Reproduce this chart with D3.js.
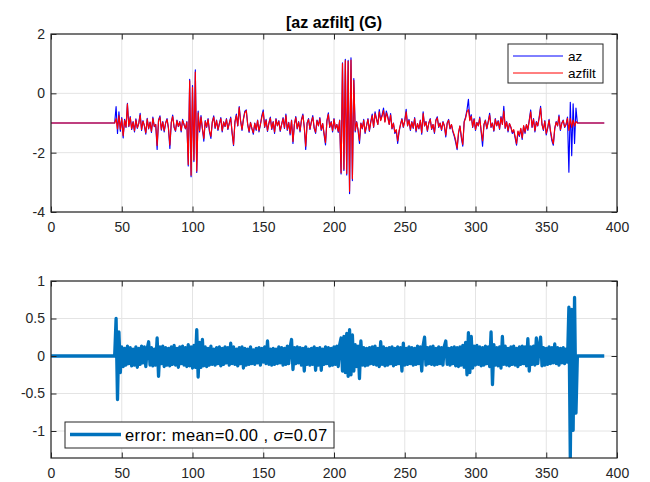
<!DOCTYPE html>
<html>
<head>
<meta charset="utf-8">
<script src="https://cdn.jsdelivr.net/npm/d3@7"></script>
<style>
  html, body { margin: 0; padding: 0; background: #fff; }
  svg { display: block; }
  text { font-family: "Liberation Sans", Arial, Helvetica, sans-serif; fill: #262626; }
</style>
</head>
<body>
<svg id="fig" width="650" height="482"></svg>
<script>
// ---- recording: rest level outside the active window, 1 s between samples ----
const recordStart = 0;
const recordEnd = 391;
const activeStart = 45;
const sampleStep = 1;
const azRest = -1;
const errorRest = 0;

// vertical acceleration (G), samples from t = 45 s to t = 373 s
const az = [
  -1.00,
  -0.45, -1.35, -0.62, -1.28, -0.82, -1.50, -0.88, -1.15, -0.34, -1.12,
  -0.78, -1.22, -0.95, -1.30, -0.86, -1.18, -1.02, -0.67, -1.25, -0.92,
  -1.10, -1.38, -0.84, -1.20, -0.97, -1.32, -0.80, -1.12, -1.05, -1.89,
  -0.90, -0.76, -1.24, -0.95, -1.30, -1.00, -0.85, -1.18, -1.86, -0.98,
  -0.73, -1.15, -1.28, -0.90, -1.12, -0.95, -1.30, -0.88, -1.05, -1.20,
  -0.95, -2.45, 0.47, -2.81, 0.26, -2.30, 0.79, -2.67, -0.60, -1.30,
  -0.75, -1.20, -1.61, -0.92, -1.15, -0.85, -1.30, -1.52, -0.95, -0.76,
  -1.18, -0.90, -1.25, -1.02, -0.82, -1.30, -0.96, -1.12, -0.85, -1.22,
  -1.00, -0.80, -1.35, -1.76, -0.95, -0.70, -1.10, -0.45, -0.92, -1.25,
  -0.85, -0.60, -0.56, -1.05, -1.32, -0.98, -1.20, -1.38, -1.00, -1.25,
  -0.90, -1.30, -1.05, -0.75, -0.56, -1.15, -0.88, -1.28, -1.00, -0.80,
  -1.22, -0.95, -1.35, -0.85, -1.10, -0.92, -1.28, -1.05, -0.82, -1.18,
  -0.70, -1.25, -0.98, -1.40, -0.90, -1.69, -1.05, -0.78, -1.20, -0.95,
  -1.30, -0.88, -0.70, -1.15, -1.89, -1.00, -0.85, -1.22, -0.95, -0.75,
  -1.18, -1.35, -0.90, -1.10, -0.82, -1.25, -1.02, -1.40, -1.74, -0.92,
  -0.66, -1.15, -0.95, -1.30, -0.85, -1.20, -1.05, -1.32, -0.90, -2.72,
  1.03, -2.60, 1.15, -2.75, 1.11, -3.38, 1.20, -2.94, 0.50, -1.30,
  -0.95, -1.25, -1.69, -1.00, -1.20, -0.88, -1.35, -1.10, -0.85, -1.28,
  -0.95, -0.70, -1.15, -0.62, -0.85, -1.05, -0.55, -0.90, -0.72, -0.50,
  -0.95, -0.60, -0.78, -1.05, -0.68, -1.20, -1.00, -1.35, -1.25, -1.69,
  -1.30, -1.05, -0.85, -1.15, -0.92, -0.54, -1.10, -0.88, -1.25, -0.95,
  -1.18, -0.82, -1.30, -1.02, -1.20, -0.90, -1.38, -0.62, -1.10, -0.95,
  -1.28, -1.00, -0.85, -1.22, -1.05, -1.35, -0.90, -0.79, -1.15, -1.00,
  -1.25, -0.95, -1.10, -1.47, -1.00, -0.88, -1.20, -1.05, -1.30, -1.45,
  -1.65, -1.90, -1.35, -1.10, -1.50, -1.78, -0.95, -0.80, -0.55, -0.20,
  -0.90, -0.72, -1.15, -0.85, -1.25, -0.98, -1.10, -0.80, -1.30, -1.78,
  -1.05, -0.90, -1.20, -0.95, -0.67, -1.15, -1.00, -1.28, -0.85, -1.10,
  -0.92, -1.22, -0.78, -1.05, -0.44, -1.18, -0.95, -1.30, -1.02, -1.15,
  -1.35, -1.25, -1.50, -1.75, -1.30, -1.45, -1.20, -1.55, -1.10, -1.35,
  -1.05, -1.25, -0.90, -0.56, -1.15, -0.85, -1.30, -0.95, -1.10, -0.80,
  -0.44, -1.05, -1.25, -0.92, -1.40, -1.18, -0.88, -1.30, -1.60, -1.75,
  -1.20, -0.95, -1.10, -0.73, -1.25, -1.00, -0.90, -1.15, -1.05, -0.80,
  -2.66, -0.30, -2.10, -0.35, -1.69, -0.50, -1.00,
  -1.00
];

// filtered acceleration (G), same sample times
const azfilt = [
  -1.00,
  -0.85, -1.20, -0.75, -1.22, -0.86, -1.43, -0.91, -1.13, -0.36, -1.11,
  -0.82, -1.19, -0.97, -1.26, -0.89, -1.16, -1.02, -0.73, -1.22, -0.94,
  -1.09, -1.33, -0.87, -1.18, -0.98, -1.28, -0.84, -1.11, -1.05, -1.76,
  -0.92, -0.80, -1.21, -0.97, -1.26, -1.01, -0.88, -1.16, -1.74, -0.99,
  -0.78, -1.13, -1.25, -0.92, -1.11, -0.97, -1.26, -0.91, -1.05, -1.18,
  -0.97, -2.40, 0.42, -2.76, 0.20, -2.25, 0.72, -2.62, -0.66, -1.26,
  -0.80, -1.18, -1.52, -0.94, -1.13, -0.88, -1.26, -1.45, -0.97, -0.80,
  -1.16, -0.92, -1.22, -1.02, -0.85, -1.26, -0.97, -1.11, -0.88, -1.20,
  -1.01, -0.84, -1.31, -1.72, -0.97, -0.75, -1.09, -0.48, -0.94, -1.22,
  -0.88, -0.65, -0.58, -1.05, -1.28, -0.99, -1.18, -1.33, -1.01, -1.22,
  -0.92, -1.26, -1.05, -0.80, -0.63, -1.13, -0.91, -1.25, -1.01, -0.84,
  -1.19, -0.97, -1.30, -0.88, -1.09, -0.94, -1.25, -1.05, -0.85, -1.16,
  -0.75, -1.22, -0.99, -1.35, -0.92, -1.62, -1.05, -0.82, -1.18, -0.97,
  -1.26, -0.91, -0.74, -1.13, -1.78, -1.01, -0.88, -1.20, -0.97, -0.80,
  -1.16, -1.31, -0.92, -1.09, -0.85, -1.22, -1.02, -1.35, -1.66, -0.94,
  -0.71, -1.13, -0.97, -1.26, -0.88, -1.18, -1.05, -1.28, -0.92, -2.68,
  1.00, -2.56, 1.10, -2.70, 1.08, -3.30, 1.12, -2.88, 0.44, -1.26,
  -0.97, -1.22, -1.60, -1.01, -1.18, -0.91, -1.31, -1.09, -0.88, -1.25,
  -0.97, -0.75, -1.13, -0.68, -0.88, -1.05, -0.62, -0.92, -0.77, -0.58,
  -0.97, -0.66, -0.82, -1.05, -0.73, -1.18, -1.01, -1.31, -1.22, -1.60,
  -1.26, -1.05, -0.88, -1.13, -0.94, -0.62, -1.09, -0.91, -1.22, -0.97,
  -1.16, -0.85, -1.26, -1.02, -1.18, -0.92, -1.33, -0.68, -1.09, -0.97,
  -1.25, -1.01, -0.88, -1.20, -1.05, -1.31, -0.92, -0.83, -1.13, -1.01,
  -1.22, -0.97, -1.09, -1.41, -1.01, -0.91, -1.18, -1.05, -1.26, -1.40,
  -1.58, -1.85, -1.32, -1.10, -1.45, -1.72, -0.97, -0.84, -0.62, -0.55,
  -0.92, -0.77, -1.13, -0.88, -1.22, -0.99, -1.09, -0.84, -1.26, -1.60,
  -1.05, -0.92, -1.18, -0.97, -0.73, -1.13, -1.01, -1.25, -0.88, -1.09,
  -0.94, -1.19, -0.82, -1.05, -0.60, -1.16, -0.97, -1.26, -1.02, -1.13,
  -1.31, -1.22, -1.45, -1.70, -1.27, -1.41, -1.18, -1.50, -1.09, -1.31,
  -1.05, -1.22, -0.92, -0.62, -1.13, -0.88, -1.26, -0.97, -1.09, -0.84,
  -0.50, -1.05, -1.22, -0.94, -1.35, -1.16, -0.91, -1.26, -1.52, -1.70,
  -1.18, -0.97, -1.09, -0.78, -1.22, -1.01, -0.92, -1.13, -1.05, -0.84,
  -1.25, -0.85, -1.15, -0.90, -1.10, -0.95, -1.00,
  -1.00
];

// filter error (G), same sample times
const filterError = [
  0.00,
  0.50, -0.58, 0.32, -0.22, 0.12, -0.14, 0.10, -0.12, 0.13, -0.10,
  0.11, -0.13, 0.09, -0.12, 0.12, -0.15, 0.10, -0.11, 0.13, -0.09,
  0.12, -0.14, 0.10, 0.19, -0.12, 0.11, -0.13, 0.09, -0.12, 0.24,
  -0.27, 0.12, -0.10, 0.13, -0.14, 0.11, -0.12, 0.10, -0.13, 0.12,
  -0.11, 0.14, -0.12, 0.10, -0.15, 0.12, -0.10, 0.13, -0.12, 0.11,
  -0.14, 0.15, -0.13, 0.12, -0.16, 0.14, -0.15, 0.35, -0.28, 0.18,
  -0.15, 0.22, -0.13, 0.12, -0.14, 0.10, -0.12, 0.13, -0.11, 0.09,
  -0.12, 0.11, -0.10, 0.12, -0.13, 0.10, -0.11, 0.12, -0.09, 0.11,
  -0.12, 0.17, -0.10, 0.12, -0.11, 0.09, -0.13, 0.11, -0.10, 0.12,
  -0.16, 0.10, -0.12, 0.09, -0.11, 0.12, -0.10, 0.08, -0.11, 0.10,
  -0.09, 0.11, -0.12, 0.10, -0.08, 0.12, -0.10, 0.20, -0.11, 0.09,
  -0.12, 0.10, -0.11, 0.09, -0.10, 0.12, -0.09, 0.11, -0.12, 0.10,
  -0.11, 0.13, -0.10, 0.12, 0.22, -0.18, 0.11, -0.10, 0.12, -0.09,
  0.11, -0.12, 0.10, -0.20, 0.12, -0.11, 0.09, -0.12, 0.10, -0.11,
  0.12, -0.19, 0.10, -0.12, 0.11, -0.19, 0.09, -0.11, 0.12, -0.10,
  0.11, -0.13, 0.10, -0.12, 0.12, -0.11, 0.13, -0.14, 0.15, 0.24,
  -0.20, 0.26, -0.22, 0.30, -0.27, 0.35, -0.25, 0.28, -0.20, 0.15,
  -0.14, 0.13, -0.30, 0.20, -0.12, 0.11, -0.13, 0.10, -0.12, 0.11,
  -0.10, 0.12, -0.11, 0.13, -0.12, 0.10, -0.14, 0.19, -0.11, 0.12,
  -0.13, 0.10, -0.12, 0.11, -0.10, 0.12, -0.13, 0.10, -0.11, 0.12,
  -0.10, 0.11, -0.20, 0.17, -0.12, 0.10, -0.11, 0.12, -0.10, 0.11,
  -0.12, 0.10, -0.11, 0.13, -0.10, 0.12, -0.20, 0.14, 0.25, -0.12,
  0.11, -0.10, 0.12, -0.11, 0.13, -0.12, 0.10, -0.11, 0.12, -0.10,
  0.11, -0.12, 0.13, 0.20, -0.11, 0.10, -0.12, 0.11, -0.10, 0.12,
  -0.13, 0.11, -0.14, 0.12, -0.12, 0.14, -0.15, 0.18, -0.25, 0.31,
  -0.22, 0.26, -0.16, 0.13, -0.12, 0.14, -0.11, 0.12, -0.13, 0.11,
  -0.12, 0.13, -0.10, 0.12, -0.14, 0.32, -0.38, 0.15, -0.12, 0.11,
  -0.13, 0.12, -0.16, 0.26, -0.11, 0.13, -0.12, 0.10, -0.13, 0.12,
  -0.11, 0.13, -0.12, 0.10, -0.14, 0.12, -0.11, 0.13, -0.10, 0.12,
  -0.13, 0.23, -0.20, 0.12, -0.11, 0.13, -0.12, 0.24, -0.10, 0.12,
  0.25, -0.13, 0.11, -0.12, 0.10, -0.11, 0.12, -0.10, 0.11, -0.09,
  0.16, -0.10, 0.11, -0.12, 0.10, -0.09, 0.11, -0.10, 0.09, -0.08,
  0.65, -1.36, 0.62, -0.99, 0.78, -0.76, 0.00,
  0.00
];

// axis ticks and limits
const xTicks = [0, 50, 100, 150, 200, 250, 300, 350, 400];
const xLimits = [0, 400];
const topYTicks = [-4, -2, 0, 2];
const topYLimits = [-4, 2];
const bottomYTicks = [-1, -0.5, 0, 0.5, 1];
const bottomYLimits = [-1.36, 1];

const titleText = "[az azfilt] (G)";
const seriesNames = ["az", "azfilt"];
const errorStats = { mean: "0.00", sigma: "0.07" };

// ---- layout ----
const svg = d3.select("#fig");
const axLeft = 51, axRight = 617;
const topBox = { top: 34, bottom: 212 };
const botBox = { top: 281, bottom: 458 };
const tickLen = 5.5;
const axisColor = "#262626";
const gridColor = "#e4e4e4";
const tickFont = "14px";

svg.append("rect").attr("width", 650).attr("height", 482).attr("fill", "#fff");

// full record: rest level, active window, rest level
function toSeries(values, rest) {
  const pts = [[recordStart, rest]];
  values.forEach((v, i) => pts.push([activeStart + i * sampleStep, v]));
  pts.push([recordEnd, rest]);
  return pts;
}

const fmt = d => String(d);

function makeAxes(id, box, yLimits, yTicks) {
  const x = d3.scaleLinear().domain(xLimits).range([axLeft, axRight]);
  const y = d3.scaleLinear().domain(yLimits).range([box.bottom, box.top]);
  const g = svg.append("g").attr("class", id);

  // grid
  const grid = g.append("g");
  grid.selectAll("line.gx").data(xTicks).join("line")
    .attr("class", "gx")
    .attr("x1", d => x(d)).attr("x2", d => x(d))
    .attr("y1", box.top).attr("y2", box.bottom)
    .attr("stroke", gridColor).attr("stroke-width", 1);
  grid.selectAll("line.gy").data(yTicks).join("line")
    .attr("class", "gy")
    .attr("x1", axLeft).attr("x2", axRight)
    .attr("y1", d => y(d)).attr("y2", d => y(d))
    .attr("stroke", gridColor).attr("stroke-width", 1);

  svg.append("defs").append("clipPath").attr("id", id + "-clip")
    .append("rect").attr("x", axLeft).attr("y", box.top)
    .attr("width", axRight - axLeft).attr("height", box.bottom - box.top);

  const plot = g.append("g").attr("clip-path", `url(#${id}-clip)`);
  const frame = g.append("g");
  return { x, y, g, plot, frame, box, yTicks };
}

function finishAxes(ax) {
  const { x, y, frame, box, yTicks } = ax;
  const styleAxis = sel => {
    sel.select(".domain").remove();
    sel.selectAll(".tick line").attr("stroke", axisColor).attr("stroke-width", 1);
    sel.selectAll(".tick text").attr("fill", axisColor)
      .attr("font-family", '"Liberation Sans", Arial, Helvetica, sans-serif')
      .style("font-size", tickFont);
  };
  frame.append("g").attr("transform", `translate(0,${box.bottom})`)
    .call(d3.axisBottom(x).tickValues(xTicks).tickFormat(fmt).tickSize(-tickLen).tickPadding(10))
    .call(styleAxis);
  frame.append("g").attr("transform", `translate(0,${box.top})`)
    .call(d3.axisTop(x).tickValues(xTicks).tickFormat("").tickSize(-tickLen))
    .call(styleAxis);
  frame.append("g").attr("transform", `translate(${axLeft},0)`)
    .call(d3.axisLeft(y).tickValues(yTicks).tickFormat(fmt).tickSize(-tickLen).tickPadding(6))
    .call(styleAxis);
  frame.append("g").attr("transform", `translate(${axRight},0)`)
    .call(d3.axisRight(y).tickValues(yTicks).tickFormat("").tickSize(-tickLen))
    .call(styleAxis);
  frame.append("rect")
    .attr("x", axLeft).attr("y", box.top)
    .attr("width", axRight - axLeft).attr("height", box.bottom - box.top)
    .attr("fill", "none").attr("stroke", axisColor).attr("stroke-width", 1.2);
}

// ---- top panel: raw and filtered acceleration ----
const topAx = makeAxes("panelTop", topBox, topYLimits, topYTicks);
const lineTop = d3.line().x(d => topAx.x(d[0])).y(d => topAx.y(d[1]));
const topColors = ["#0000ff", "#ff0000"];
[az, azfilt].forEach((vals, k) => {
  topAx.plot.append("path")
    .datum(toSeries(vals, azRest))
    .attr("d", lineTop)
    .attr("fill", "none")
    .attr("stroke", topColors[k])
    .attr("stroke-width", 1.15)
    .attr("stroke-linejoin", "round");
});
finishAxes(topAx);

svg.append("text")
  .attr("x", (axLeft + axRight) / 2).attr("y", 28)
  .attr("text-anchor", "middle")
  .style("font-size", "16px").style("font-weight", "bold")
  .style("fill", "#000")
  .text(titleText);

// legend for the top panel
const lgTop = svg.append("g");
lgTop.append("rect").attr("x", 508).attr("y", 44).attr("width", 95).attr("height", 39)
  .attr("fill", "#fff").attr("stroke", axisColor).attr("stroke-width", 1);
seriesNames.forEach((name, k) => {
  const yy = 56 + k * 17;
  lgTop.append("line").attr("x1", 513).attr("x2", 563).attr("y1", yy).attr("y2", yy)
    .attr("stroke", topColors[k]).attr("stroke-width", 1);
  lgTop.append("text").attr("x", 568).attr("y", yy).attr("dy", "0.35em")
    .style("font-size", "13.5px").style("fill", "#000").text(name);
});

// ---- bottom panel: filter error ----
const botAx = makeAxes("panelBot", botBox, bottomYLimits, bottomYTicks);
const lineBot = d3.line().x(d => botAx.x(d[0])).y(d => botAx.y(d[1]));
const errColor = "#0072bd";
botAx.plot.append("path")
  .datum(toSeries(filterError, errorRest))
  .attr("d", lineBot)
  .attr("fill", "none")
  .attr("stroke", errColor)
  .attr("stroke-width", 3.3)
  .attr("stroke-linejoin", "round");
finishAxes(botAx);

const lgBot = svg.append("g");
lgBot.append("rect").attr("x", 65).attr("y", 422).attr("width", 269).attr("height", 26)
  .attr("fill", "#fff").attr("stroke", axisColor).attr("stroke-width", 1);
lgBot.append("line").attr("x1", 70).attr("x2", 121).attr("y1", 434.5).attr("y2", 434.5)
  .attr("stroke", errColor).attr("stroke-width", 3.3);
const lgText = lgBot.append("text").attr("x", 125).attr("y", 435).attr("dy", "0.35em")
  .style("font-size", "16.5px").style("letter-spacing", "0.4px").style("fill", "#000");
lgText.append("tspan").text(`error: mean=${errorStats.mean} , `);
lgText.append("tspan").style("font-style", "italic").text("σ");
lgText.append("tspan").text(`=${errorStats.sigma}`);
</script>
</body>
</html>
